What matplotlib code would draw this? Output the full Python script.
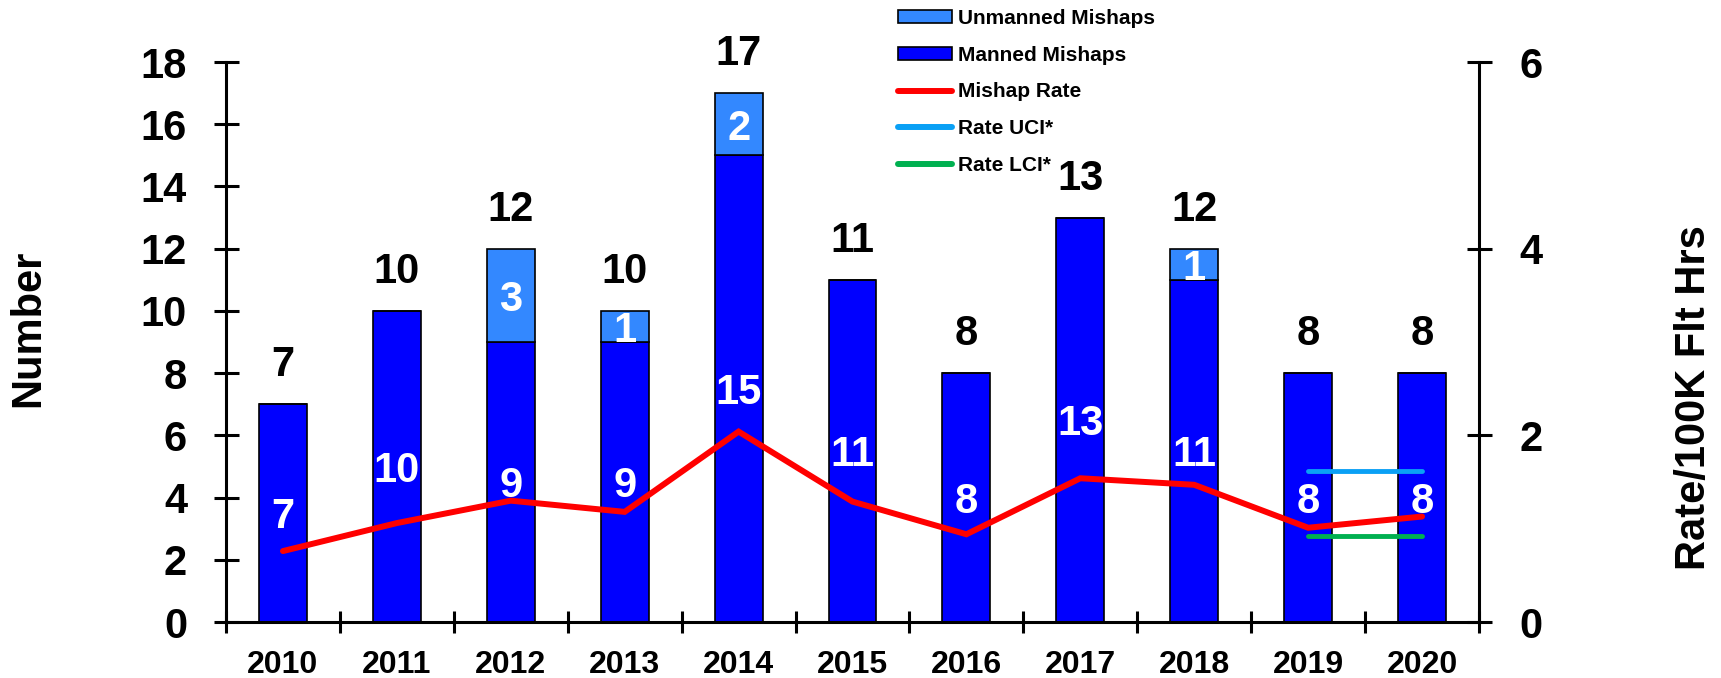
import numpy as np
import matplotlib
matplotlib.use('Agg')
import matplotlib.pyplot as plt
from matplotlib.patches import Patch
from matplotlib.lines import Line2D

years = ['2010', '2011', '2012', '2013', '2014', '2015',
         '2016', '2017', '2018', '2019', '2020']
manned = [7, 10, 9, 9, 15, 11, 8, 13, 11, 8, 8]
unmanned = [0, 0, 3, 1, 2, 0, 0, 0, 1, 0, 0]
rate = [0.76, 1.06, 1.30, 1.18, 2.04, 1.29, 0.94, 1.54, 1.47, 1.01, 1.13]
ci_years = ['2019', '2020']
rate_uci = [1.62, 1.62]
rate_lci = [0.92, 0.92]

MANNED_C = '#0000FF'
UNMANNED_C = '#3388FF'
RATE_C = '#FF0000'
UCI_C = '#0AA0F5'
LCI_C = '#00B050'

plt.rcParams['font.family'] = ['Liberation Sans', 'DejaVu Sans']
plt.rcParams['font.weight'] = 'bold'

W, H = 1721, 678
fig = plt.figure(figsize=(W / 100, H / 100), dpi=100)
ax = fig.add_axes([226 / W, 56 / H, (1479 - 226) / W, (622 - 62) / H])
ax2 = ax.twinx()

x = np.arange(len(years))
total = np.array(manned) + np.array(unmanned)
bw = 0.42
ax.bar(x, manned, width=bw, color=MANNED_C, edgecolor='black', linewidth=1.2, zorder=2)
ax.bar(x, unmanned, bottom=manned, width=bw, color=UNMANNED_C,
       edgecolor='black', linewidth=1.2, zorder=2)

# labels
for i in range(len(years)):
    ax.annotate(str(manned[i]), (x[i], manned[i] / 2), xytext=(0, -11),
                textcoords='offset points', ha='center', va='baseline',
                color='white', fontsize=30, fontweight='bold', zorder=5)
    if unmanned[i] > 0:
        ax.annotate(str(unmanned[i]), (x[i], manned[i] + unmanned[i] / 2),
                    xytext=(0, -11), textcoords='offset points', ha='center',
                    va='baseline', color='white', fontsize=30,
                    fontweight='bold', zorder=5)
    ax.annotate(str(total[i]), (x[i], total[i]), xytext=(0, 20),
                textcoords='offset points', ha='center', va='baseline',
                color='black', fontsize=30, fontweight='bold',
                annotation_clip=False, zorder=5)

xi = [years.index(y) for y in ci_years]
ax2.plot(x, rate, color=RATE_C, lw=4.3, solid_capstyle='round',
         solid_joinstyle='miter', zorder=4)
ax2.plot(xi, rate_uci, color=UCI_C, lw=3.5, solid_capstyle='round', zorder=4)
ax2.plot(xi, rate_lci, color=LCI_C, lw=3.5, solid_capstyle='round', zorder=4)

ax.set_xlim(-0.5, len(years) - 0.5)
ax.set_ylim(0, 18)
ax2.set_ylim(0, 6)
ax.set_yticks(np.arange(0, 19, 2))
ax2.set_yticks([0, 2, 4, 6])

ax.set_xticks(x)
ax.set_xticklabels(years, fontsize=23, fontweight='bold')
ax.set_xticks(np.arange(-0.5, len(years), 1), minor=True)
ax.tick_params(axis='x', which='major', length=0, pad=20)
ax.tick_params(axis='x', which='minor', direction='inout', length=16, width=2.2)
ax.tick_params(axis='y', direction='inout', length=18, width=2.2, pad=19,
               labelsize=30)
ax2.tick_params(axis='y', direction='inout', length=18, width=2.2, pad=20,
                labelsize=30)
for lab in ax.get_yticklabels() + ax2.get_yticklabels():
    lab.set_fontweight('bold')

for a in (ax, ax2):
    a.spines['top'].set_visible(False)
    for s in ('left', 'right', 'bottom'):
        a.spines[s].set_linewidth(2.2)
ax.spines['right'].set_visible(False)
ax2.spines['left'].set_visible(False)
ax2.spines['bottom'].set_visible(False)
ax2.patch.set_visible(False)

ax.set_ylabel('Number', fontsize=30, fontweight='bold')
ax.yaxis.set_label_coords(-0.142, 0.525)
ax2.set_ylabel('Rate/100K Flt Hrs', fontsize=30, fontweight='bold', rotation=90)
ax2.yaxis.set_label_coords(1.156, 0.40)

handles = [
    Patch(facecolor=UNMANNED_C, edgecolor='black', linewidth=1.2),
    Patch(facecolor=MANNED_C, edgecolor='black', linewidth=1.2),
    Line2D([], [], color=RATE_C, lw=4.3, solid_capstyle='round'),
    Line2D([], [], color=UCI_C, lw=4.3, solid_capstyle='round'),
    Line2D([], [], color=LCI_C, lw=4.3, solid_capstyle='round'),
]
labels = ['Unmanned Mishaps', 'Manned Mishaps', 'Mishap Rate', 'Rate UCI*', 'Rate LCI*']
fig.legend(handles, labels, loc='upper left', bbox_to_anchor=(898 / W, 1 - 9 / H),
           frameon=False, borderpad=0, borderaxespad=0, handlelength=2.6,
           handleheight=0.55, handletextpad=0.28, labelspacing=0.85,
           prop={'size': 15, 'weight': 'bold'})

fig.savefig('out.png', dpi=100)
